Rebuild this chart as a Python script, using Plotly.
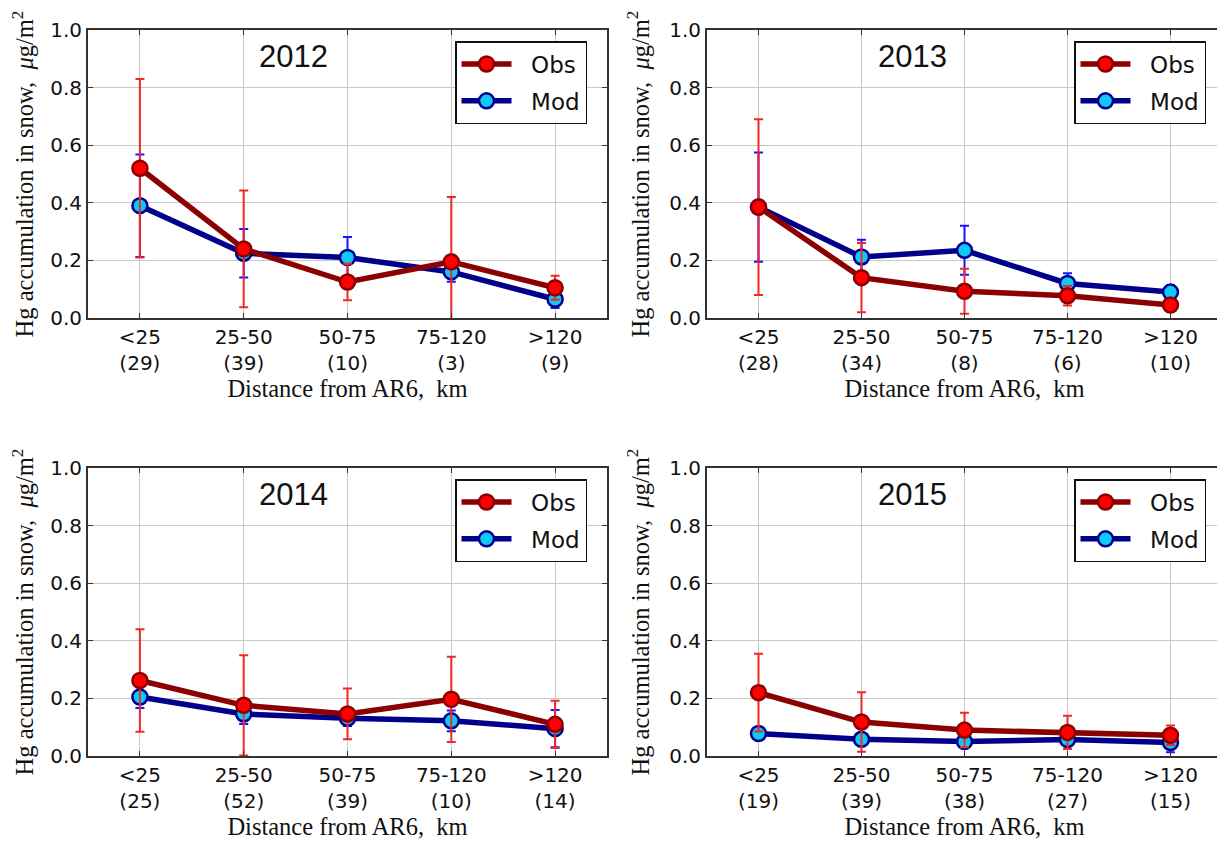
import plotly.graph_objects as go

categories = ["<25", "25-50", "50-75", "75-120", ">120"]
years = ["2012", "2013", "2014", "2015"]
counts = {
    "2012": [29, 39, 10, 3, 9],
    "2013": [28, 34, 8, 6, 10],
    "2014": [25, 52, 39, 10, 14],
    "2015": [19, 39, 38, 27, 15],
}
obs_mean = {
    "2012": [0.52, 0.24, 0.125, 0.195, 0.105],
    "2013": [0.385, 0.14, 0.093, 0.077, 0.045],
    "2014": [0.262, 0.176, 0.146, 0.197, 0.11],
    "2015": [0.22, 0.118, 0.09, 0.082, 0.072],
}
obs_std = {
    "2012": [0.31, 0.203, 0.063, 0.225, 0.042],
    "2013": [0.305, 0.12, 0.078, 0.034, 0.008],
    "2014": [0.178, 0.174, 0.088, 0.148, 0.082],
    "2015": [0.135, 0.103, 0.06, 0.058, 0.034],
}
mod_mean = {
    "2012": [0.39, 0.225, 0.21, 0.16, 0.065],
    "2013": [0.385, 0.212, 0.235, 0.12, 0.09],
    "2014": [0.205, 0.146, 0.131, 0.122, 0.095],
    "2015": [0.078, 0.058, 0.05, 0.057, 0.047],
}
mod_std = {
    "2012": [0.178, 0.084, 0.071, 0.034, 0.03],
    "2013": [0.19, 0.06, 0.085, 0.035, 0.024],
    "2014": [0.038, 0.035, 0.027, 0.036, 0.065],
    "2015": [0.01, 0.01, 0.012, 0.022, 0.034],
}
y_ticks = [0.0, 0.2, 0.4, 0.6, 0.8, 1.0]

W, H = 1225, 845
OFF = 8  # page body offset of the rendered figure
# pixel boxes of each axes in the screenshot: (left, right, top, bottom)
boxes = [(88, 607, 30, 318), (707, 1222, 30, 318),
         (88, 607, 468, 756), (707, 1222, 468, 756)]
legend_pos = [(455, 41), (1074, 41), (455, 479), (1074, 479)]
year_pos = [(293, 56), (912, 56), (293, 494), (912, 494)]

OBS_LINE = "#8B0000"
OBS_FILL = "#FF0000"
OBS_ERR = "#F02828"
MOD_LINE = "#00008B"
MOD_FILL = "#10C8F5"
MOD_ERR = "#1515FF"

tickfont = dict(family="DejaVu Sans", size=20, color="#111")
serif = dict(family="Liberation Serif", size=24.5, color="#111")


def px(x):
    return (x - OFF) / W


def py(y):
    return 1 - (y - OFF) / H


fig = go.Figure()
layout = dict(width=W, height=H, margin=dict(l=0, r=0, t=0, b=0, autoexpand=False),
              paper_bgcolor="white", plot_bgcolor="white", annotations=[])

xs = list(range(len(categories)))
for i, yr in enumerate(years):
    sfx = "" if i == 0 else str(i + 1)
    xa, ya = "x" + sfx, "y" + sfx
    leg = "legend" if i == 0 else "legend" + str(i + 1)
    fig.add_trace(go.Scatter(
        x=xs, y=mod_mean[yr], xaxis=xa, yaxis=ya, name="\u00a0\u00a0Mod", legend=leg,
        legendgroup="mod" + yr,
        mode="lines+markers",
        line=dict(color=MOD_LINE, width=5.5),
        marker=dict(size=15, color=MOD_FILL, line=dict(color=MOD_LINE, width=2.5)),
        error_y=dict(type="data", array=mod_std[yr], color=MOD_ERR, thickness=2, width=4.5),
        legendrank=2,
    ))
    fig.add_trace(go.Scatter(
        x=xs, y=obs_mean[yr], xaxis=xa, yaxis=ya, name="\u00a0\u00a0Obs", legend=leg,
        legendgroup="obs" + yr,
        mode="lines+markers",
        line=dict(color=OBS_LINE, width=5.5),
        marker=dict(size=15, color=OBS_FILL, line=dict(color=OBS_LINE, width=2.5)),
        error_y=dict(type="data", array=obs_std[yr], color=OBS_ERR, thickness=2, width=4.5),
        legendrank=1,
    ))
    l, r, t, b = boxes[i]
    ticktext = [f"{c}<br>({n})" for c, n in zip(categories, counts[yr])]
    layout["xaxis" + sfx] = dict(
        domain=[px(l), px(r)], anchor=ya, range=[-0.5, 4.5], automargin=False,
        tickmode="array", tickvals=xs, ticktext=ticktext, tickfont=tickfont,
        showgrid=True, gridcolor="#c8c8c8", gridwidth=1, zeroline=False,
        showline=True, linecolor="#333", linewidth=2, mirror="ticks",
        ticks="inside", ticklen=5, tickcolor="#333",
        title=dict(text="Distance from AR6,  km", font=serif, standoff=2),
    )
    layout["yaxis" + sfx] = dict(
        domain=[py(b), py(t)], anchor=xa, range=[0, 1.0], automargin=False,
        tickmode="array", tickvals=y_ticks, ticktext=[f"{v:.1f}" for v in y_ticks],
        tickfont=tickfont,
        showgrid=True, gridcolor="#c8c8c8", gridwidth=1, zeroline=False,
        showline=True, linecolor="#333", linewidth=2, mirror="ticks",
        ticks="inside", ticklen=5, tickcolor="#333",
        title=dict(text="Hg accumulation in snow,  <i>μ</i>g/m<sup>2</sup>", font=serif, standoff=13),
    )
    lx, ly = legend_pos[i]
    layout[leg] = dict(
        x=px(lx), y=py(ly), xanchor="left", yanchor="top",
        bgcolor="white", bordercolor="#111", borderwidth=1.5,
        font=dict(family="DejaVu Sans", size=23, color="#111"),
        traceorder="grouped", itemwidth=50, tracegroupgap=4,
    )
    yx, yy = year_pos[i]
    layout["annotations"].append(dict(
        text=yr, x=px(yx), y=py(yy), xref="paper", yref="paper",
        xanchor="center", yanchor="middle",
        showarrow=False, font=dict(family="Liberation Sans", size=31, color="#111"),
    ))

fig.update_layout(**layout)
fig.write_html("out.html")
